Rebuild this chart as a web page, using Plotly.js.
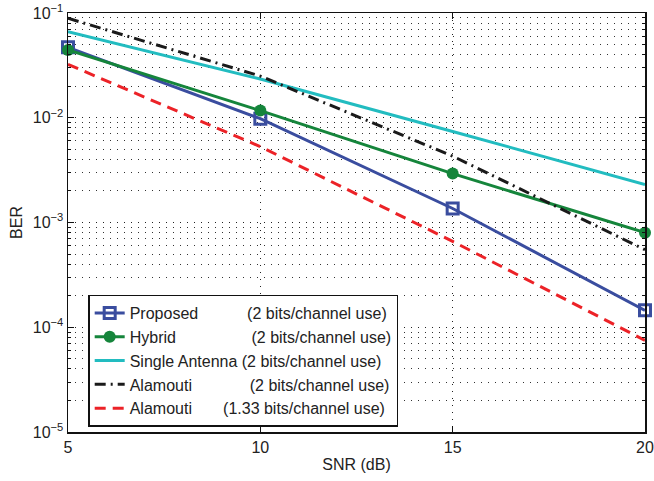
<!DOCTYPE html>
<html>
<head>
<meta charset="utf-8">
<script src="https://cdn.plot.ly/plotly-3.0.1.min.js"></script>
<style>html,body{margin:0;padding:0;background:#fff;}#chart{width:654px;height:481px;}</style>
</head>
<body>
<div id="chart"></div>
<script>
var snr = [5, 10, 15, 20];
var berProposed = [0.047, 0.0098, 0.00136, 0.000145];
var berHybrid = [0.0444, 0.0117, 0.00293, 0.00080];
var berSingle = [0.0664, 0.0234, 0.0074, 0.0023];
var berAlamouti2 = [0.089, 0.025, 0.0043, 0.00055];
var berAlamouti133 = [0.0323, 0.0053, 0.00066, 0.000075];
var seriesNames = [
  'Proposed\u00A0\u00A0\u00A0\u00A0\u00A0\u00A0\u00A0\u00A0\u00A0\u00A0\u00A0(2 bits/channel use)',
  'Hybrid\u00A0\u00A0\u00A0\u00A0\u00A0\u00A0\u00A0\u00A0\u00A0\u00A0\u00A0\u00A0\u00A0\u00A0\u00A0\u00A0\u00A0(2 bits/channel use)',
  'Single Antenna (2 bits/channel use)',
  'Alamouti\u00A0\u00A0\u00A0\u00A0\u00A0\u00A0\u00A0\u00A0\u00A0\u00A0\u00A0\u00A0\u00A0(2 bits/channel use)',
  'Alamouti\u00A0\u00A0\u00A0\u00A0\u00A0\u00A0\u00A0(1.33 bits/channel use)'
];
var xTicks = [5, 10, 15, 20];
var yTicks = [1e-5, 1e-4, 1e-3, 1e-2, 1e-1];
var yTickText = ['10<sup>\u22125</sup>', '10<sup>\u22124</sup>', '10<sup>\u22123</sup>', '10<sup>\u22122</sup>', '10<sup>\u22121</sup>'];

var FONT = 'Liberation Sans, Arial, Helvetica, sans-serif';

var traces = [
  {x: snr, y: berProposed, name: seriesNames[0], mode: 'lines+markers', cliponaxis: false,
   line: {color: '#3a4d9f', width: 3},
   marker: {symbol: 'square-open', size: 11, color: '#3a4d9f', line: {width: 3, color: '#3a4d9f'}}},
  {x: snr, y: berHybrid, name: seriesNames[1], mode: 'lines+markers', cliponaxis: false,
   line: {color: '#15853b', width: 3},
   marker: {symbol: 'circle', size: 12, color: '#15853b'}},
  {x: snr, y: berSingle, name: seriesNames[2], mode: 'lines',
   line: {color: '#22bcc0', width: 3}},
  {x: snr, y: berAlamouti2, name: seriesNames[3], mode: 'lines',
   line: {color: '#1a1a1a', width: 3, dash: '11px,5px,2px,5px'}},
  {x: snr, y: berAlamouti133, name: seriesNames[4], mode: 'lines',
   line: {color: '#ec2227', width: 3, dash: '11px,7px'}}
];

var gridDash = '1px,6px';
var layout = {
  width: 654, height: 481,
  margin: {l: 68, r: 9, t: 13, b: 49},
  paper_bgcolor: '#ffffff', plot_bgcolor: '#ffffff',
  font: {family: FONT, size: 16, color: '#222'},
  showlegend: true,
  legend: {
    x: 0.035, y: 0.328, xanchor: 'left', yanchor: 'top',
    bgcolor: '#ffffff', bordercolor: '#111', borderwidth: 1.5,
    font: {family: FONT, size: 16, color: '#222'},
    tracegroupgap: 0
  },
  xaxis: {
    range: [5, 20], tickvals: xTicks, ticktext: xTicks.map(String),
    showline: true, linecolor: '#111', linewidth: 1.5, mirror: 'ticks',
    ticks: 'inside', ticklen: 6, tickcolor: '#111',
    showgrid: true, gridcolor: '#222', griddash: gridDash, gridwidth: 1,
    zeroline: false,
    tickfont: {family: FONT, size: 16, color: '#222'},
    title: {text: 'SNR (dB)', font: {family: FONT, size: 16, color: '#222'}, standoff: 4}
  },
  yaxis: {
    type: 'log', range: [-5, -1], tickmode: 'array', tickvals: yTicks, ticktext: yTickText,
    ticklabeloverflow: 'allow',
    showline: true, linecolor: '#111', linewidth: 1.5, mirror: 'ticks',
    ticks: 'inside', ticklen: 6, tickcolor: '#111',
    showgrid: true, gridcolor: '#222', griddash: gridDash, gridwidth: 1,
    zeroline: false,
    minor: {dtick: 'D1', ticks: 'inside', ticklen: 3, tickcolor: '#111',
            showgrid: true, gridcolor: '#333', griddash: gridDash, gridwidth: 1},
    tickfont: {family: FONT, size: 16, color: '#222'},
    title: {text: 'BER', font: {family: FONT, size: 16, color: '#222'}, standoff: 6}
  }
};

Plotly.newPlot('chart', traces, layout, {displayModeBar: false, staticPlot: true});
</script>
</body>
</html>
